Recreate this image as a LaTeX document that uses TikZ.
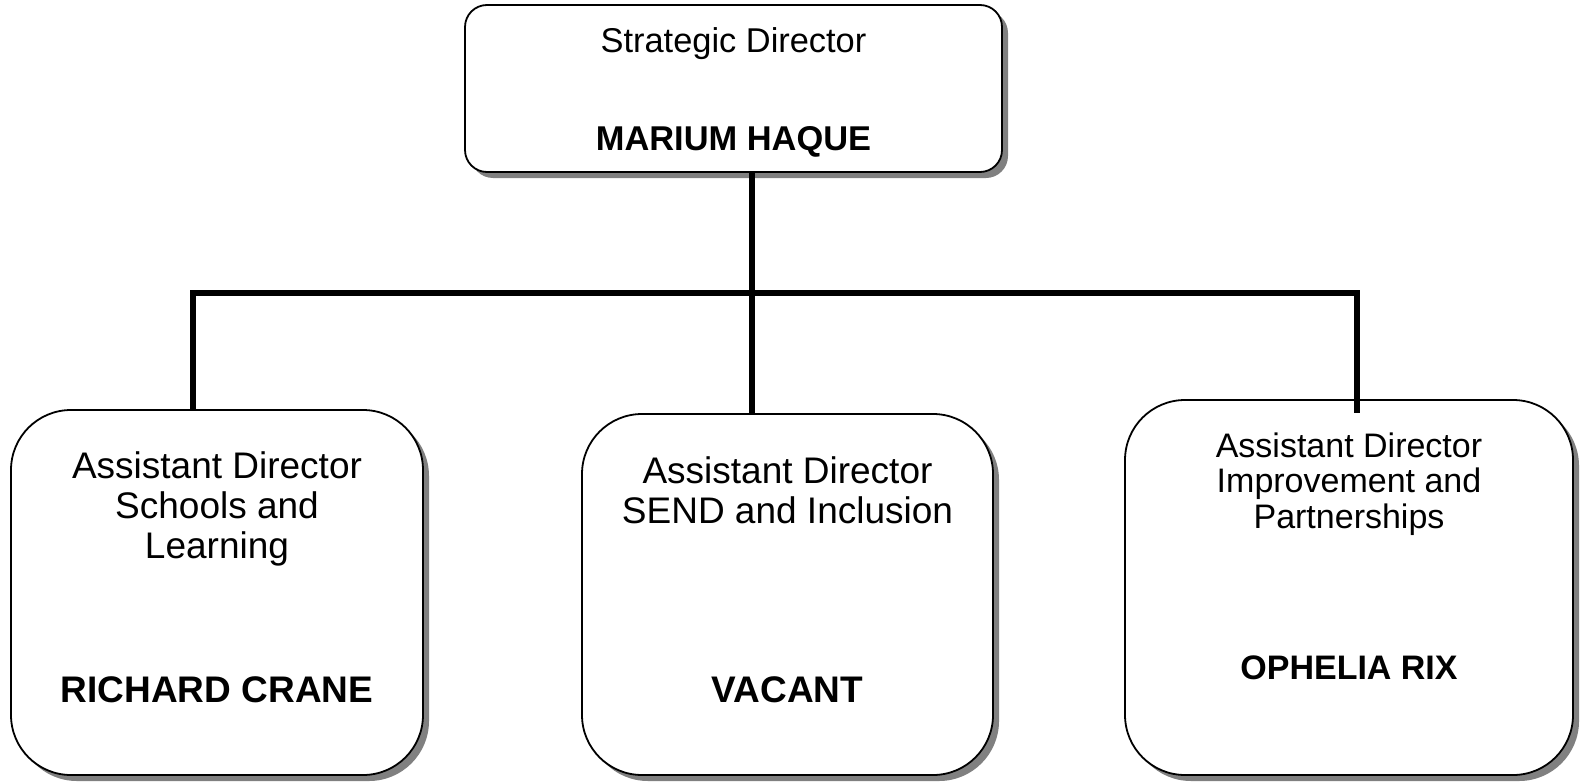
\documentclass[tikz,border=0pt]{standalone}
\usepackage{fontspec}
\setmainfont{Liberation Sans}
\usepackage{tikz}
\usetikzlibrary{shadows, calc, positioning}
\tikzstyle{post} = [draw, fill=white, rectangle, line width=0.9pt,
    drop shadow={shadow xshift=3pt, shadow yshift=-3pt, fill=black!50, opacity=1}]
\tikzstyle{role} = [align=center, inner sep=0pt, font=\fontsize{18.5}{20}\selectfont]
\tikzstyle{holder} = [inner sep=0pt, font=\fontsize{18.5}{20}\selectfont\bfseries]
\tikzstyle{link} = [line width=2.6pt, line join=miter]

\begin{document}
\begin{tikzpicture}[x=0.5pt, y=-0.5pt]
    \useasboundingbox (0,0) rectangle (1582,781);
    \node [post, rounded corners=11pt, minimum width=268.5pt, minimum height=83.5pt] (director) at (733.5,88.5) {};
    \node [post, rounded corners=30pt, minimum width=206pt, minimum height=182.5pt] (schools) at (217,592.5) {};
    \node [post, rounded corners=30pt, minimum width=205.5pt, minimum height=180.5pt] (send) at (787.5,594.5) {};
    \node [post, rounded corners=30pt, minimum width=224pt, minimum height=187.5pt] (partners) at (1349,587.5) {};

    \node [role, font=\fontsize{17.2}{20}\selectfont] (directorrole) at ($(director.north)+(0,40)$) {Strategic Director};
    \node [holder, font=\fontsize{17.2}{20}\selectfont\bfseries] (directorname) at ($(director.north)+(0,138)$) {MARIUM HAQUE};
    \node [role] (schoolsrole) at ($(schools.north)+(0,100)$) {Assistant Director\\Schools and\\Learning};
    \node [holder] (schoolsname) at ($(schools.north)+(0,281)$) {RICHARD CRANE};
    \node [role] (sendrole) at ($(send.north)+(0,77)$) {Assistant Director\\SEND and Inclusion};
    \node [holder] (sendname) at ($(send.north)+(0,277)$) {VACANT};
    \node [role, font=\fontsize{17}{17.75}\selectfont] (partnersrole) at ($(partners.north)+(0,85)$) {Assistant Director\\Improvement and\\Partnerships};
    \node [holder, font=\fontsize{17}{17.75}\selectfont\bfseries] (partnersname) at ($(partners.north)+(0,269)$) {OPHELIA RIX};

    \coordinate (bus) at (752,293);
    \coordinate (busL) at (193,293);
    \coordinate (busR) at (1357,293);
    \coordinate (tipR) at (1357,413);
    \draw [link] (director.south -| bus) -- (bus);
    \draw [link] (busL |- schools.north) -- (busL) -- (busR) -- (tipR);
    \draw [link] (bus) -- (bus |- send.north);
\end{tikzpicture}
\end{document}
